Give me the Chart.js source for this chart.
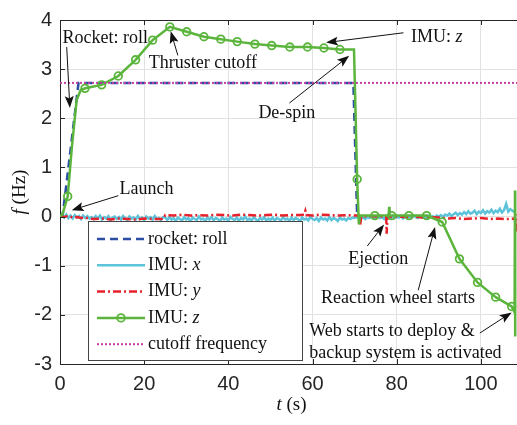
<!DOCTYPE html>
<html><head><meta charset="utf-8">
<script src="https://cdn.jsdelivr.net/npm/chart.js@4.4.0/dist/chart.umd.min.js"></script>
<style>
html,body{margin:0;padding:0;background:#fff;overflow:hidden;}
#wrap{width:517px;height:425px;overflow:hidden;position:relative;background:#fff;}
canvas{display:block;}
</style></head><body>
<div id="wrap"><canvas id="c" width="530" height="425"></canvas></div>
<script>
// ---------- data ----------
const xTicks = [0, 20, 40, 60, 80, 100];
const yTicks = [-3, -2, -1, 0, 1, 2, 3, 4];

// rocket: roll
const rollT = [0, 0.6, 4.4, 69.7, 70.6, 71];
const rollF = [0, 0, 2.72, 2.72, 0, 0];

// cutoff frequency
const cutT = [0, 110];
const cutF = [2.72, 2.72];

// IMU: x  (sampled every 0.5 s from t = 0)
const imuXStep = 0.5;
const imuX = [
  0.00, 0.03, -0.02, 0.04, -0.03, 0.02, -0.04, 0.03, -0.02, 0.01, -0.05, 0.02, -0.03, 0.01, -0.04,
  -0.01, -0.05, 0.01, -0.04, 0.02, -0.06, -0.01, -0.04, 0.01, -0.07, -0.02, 0.00, -0.05, -0.01, -0.06,
  0.01, -0.03, -0.07, 0.00, -0.04, -0.02, -0.06, 0.01, -0.05, -0.02, -0.08, 0.00, -0.04, -0.01, -0.06,
  0.01, -0.05, -0.03, -0.07, -0.01,
  -0.02, -0.07, -0.01, -0.06, -0.03, -0.09, -0.02, -0.05, -0.08, -0.01, -0.06, -0.03, -0.10, -0.02, -0.05,
  -0.07, 0.00, -0.06, -0.04, -0.09, -0.02, -0.06, -0.01, -0.08, -0.03, -0.05, -0.10, -0.02, -0.06, -0.04,
  -0.08, -0.01, -0.05, -0.07, -0.02, -0.09, -0.03, -0.06, 0.00, -0.07, -0.04, -0.08, -0.02, -0.05, -0.10,
  -0.03, -0.06, -0.01, -0.08, -0.04, -0.07, -0.02, -0.09, -0.03, -0.05, -0.08, -0.01, -0.06, -0.04, -0.09,
  -0.02, -0.07, -0.03, -0.05, -0.10, -0.02, -0.06, -0.04, -0.08, 0.00, -0.05, -0.07, -0.03, -0.09, -0.02,
  -0.06, -0.04, -0.08, -0.01, -0.07, -0.03, -0.05, -0.09, -0.02, -0.06, -0.04, -0.08, -0.03, -0.05, -0.02,
  -0.03, -0.01, -0.04, 0.00, -0.02, -0.05, -0.01, -0.03, 0.01, -0.04, -0.02, 0.00, -0.03, -0.01, -0.05,
  0.00, -0.02, -0.04, 0.01, -0.03, -0.01, -0.02, 0.01, -0.04, 0.00, -0.02, -0.01, -0.03, 0.02, -0.01,
  -0.03, 0.01, -0.02, 0.00, -0.03, 0.02, -0.01, 0.01, -0.02, 0.02,
  0.00, 0.03, -0.01, 0.04, 0.02, 0.06, 0.01, 0.05, 0.08, 0.03, 0.07, 0.04, 0.09, 0.05, 0.11,
  0.06, 0.08, 0.12, 0.05, 0.10, 0.07, 0.13, 0.06, 0.11, 0.08, 0.14, 0.07, 0.12, 0.09, 0.16,
  0.08, 0.13, 0.26, 0.10, 0.15, 0.12, 0.09
];

// IMU: y
const imuYT = [0, 1, 2, 3, 4, 5, 6, 7, 8, 10, 12, 14, 16, 18, 20, 22, 24, 24.6, 25,
  27, 29, 31, 33, 35, 37, 39, 41, 43, 45, 47, 49, 51, 53, 55, 57, 58, 58.3, 58.6,
  60, 62, 64, 66, 68, 70, 71.0, 71.3, 71.6, 74, 76, 77.5, 77.6, 77.8,
  80, 82, 84, 86, 88, 90, 92, 94, 96, 98, 100, 102, 104, 106, 108.1, 108.3, 108.5];
const imuYF = [0.01, -0.01, 0.02, -0.02, -0.01, -0.03, -0.02, -0.04, -0.05,
  -0.04, -0.06, -0.04, -0.05, -0.06, -0.04, -0.05, -0.05, -0.04, 0.03,
  0.02, 0.04, 0.02, 0.03, 0.02, 0.04, 0.03, 0.02, 0.04, 0.03, 0.02, 0.03, 0.04, 0.02, 0.03, 0.03,
  0.04, 0.12, 0.03,
  0.02, 0.04, 0.03, 0.02, 0.03, 0.02, 0.02, -0.18, 0.0, 0.01, 0.0, 0.0, -0.35, 0.0,
  0.0, -0.01, 0.0, -0.02, -0.01, -0.02, -0.04, -0.03, -0.05, -0.04, -0.03, -0.05, -0.04, -0.05,
  -0.04, -0.3, 0.05];

// IMU: z
const imuZT = [0, 0.6, 1.83, 2.8, 3.95, 4.9, 5.94, 9.9, 13.85, 17.96, 22.0, 26.1, 30.1, 34.2, 38.2,
  42.1, 46.3, 50.3, 54.6, 58.8, 62.7, 66.5, 69.85, 70.6, 71.0, 71.3, 74.8, 78.1, 78.2, 78.3, 78.8,
  82.9, 87.1, 90.8, 94.9, 99.2, 103.5, 107.3, 108.0, 108.1, 108.15];
const imuZF = [0, 0.05, 0.41, 1.39, 2.37, 2.57, 2.61, 2.68, 2.86, 3.19, 3.59, 3.86, 3.76, 3.66, 3.61,
  3.56, 3.51, 3.48, 3.45, 3.45, 3.43, 3.40, 3.40, 0.76, -0.16, 0.02, 0.02, 0.02, 0.2, 0.02, 0.02,
  0.02, 0.02, -0.11, -0.86, -1.34, -1.64, -1.83, -1.95, 0.53, -2.44];
// times at which the IMU: z curve carries a circle marker
const imuZMarkT = [1.83, 5.94, 9.9, 13.85, 17.96, 22.0, 26.1, 30.1, 34.2, 38.2, 42.1, 46.3, 50.3,
  54.6, 58.8, 62.7, 66.5, 70.6, 74.8, 78.8, 82.9, 87.1, 90.8, 94.9, 99.2, 103.5, 107.3];

// annotation texts (anchor and arrow given in data units)
const notes = [
  {lines: [[['Rocket: roll', false]]], at: [10.76, 3.62], align: 'center', from: [1.59, 3.45], to: [2.35, 2.21]},
  {lines: [[['Thruster cutoff', false]]], at: [33.95, 3.11], align: 'center', from: [28.0, 3.28], to: [26.3, 3.77]},
  {lines: [[['IMU: ', false], ['z', true]]], at: [89.5, 3.65], align: 'center', from: [81.6, 3.74], to: [63.2, 3.54]},
  {lines: [[['De-spin', false]]], at: [53.9, 2.11], align: 'center', from: [54.5, 2.31], to: [68.7, 3.27]},
  {lines: [[['Launch', false]]], at: [20.55, 0.55], align: 'center', from: [13.85, 0.425], to: [2.78, 0.13]},
  {lines: [[['Ejection', false]]], at: [75.6, -0.87], align: 'center', from: [73.0, -0.60], to: [77.0, -0.16]},
  {lines: [[['Reaction wheel starts', false]]], at: [80.3, -1.66], align: 'center', from: [85.1, -1.5], to: [89.1, -0.21]},
  {lines: [[['Web starts to deploy &', false]], [['backup system is activated', false]]], at: [59.2, -2.34], align: 'left', from: [99.75, -2.37], to: [107.3, -1.95]}
];

// ---------- build datasets ----------
const pts = (T, F) => T.map((t, i) => ({x: t, y: F[i]}));
const imuXPts = imuX.map((v, i) => ({x: i * imuXStep, y: v}));

const COL = {roll: '#2b4ea3', x: '#5cc3da', y: '#e8222b', z: '#5bb53d', cut: '#c43fa5'};
const SERIF = '"Liberation Serif", "Times New Roman", serif';
const SANS = '"Liberation Sans", Arial, sans-serif';
const TXT = '#262626';

const datasets = [
  {label: 'rocket: roll', data: pts(rollT, rollF), borderColor: COL.roll, borderWidth: 2.5, borderDash: [8, 5], pointRadius: 0, order: 5},
  {label: 'IMU: x', data: imuXPts, borderColor: COL.x, borderWidth: 2.5, pointRadius: 0, order: 4},
  {label: 'IMU: y', data: pts(imuYT, imuYF), borderColor: COL.y, borderWidth: 2.5, borderDash: [8, 3, 2, 3], pointRadius: 0, order: 3},
  {label: 'IMU: z', data: pts(imuZT, imuZF), borderColor: COL.z, borderWidth: 2.5,
    pointRadius: c => imuZMarkT.includes(imuZT[c.dataIndex]) ? 3.8 : 0,
    pointBorderWidth: 1.8, pointBorderColor: COL.z, pointBackgroundColor: 'rgba(0,0,0,0)', order: 2},
  {label: 'cutoff frequency', data: pts(cutT, cutF), borderColor: COL.cut, borderWidth: 2, borderDash: [2, 2], pointRadius: 0, order: 1}
];
const legendItalic = {'IMU: x': 'x', 'IMU: y': 'y', 'IMU: z': 'z'};

// ---------- drawing helpers ----------
function richWidth(ctx, segs, size) {
  let w = 0;
  for (const [s, it] of segs) { ctx.font = (it ? 'italic ' : '') + size + 'px ' + SERIF; w += ctx.measureText(s).width; }
  return w;
}
function drawRich(ctx, segs, x, y, size, align) {
  let w = richWidth(ctx, segs, size);
  let cx = align === 'center' ? x - w / 2 : x;
  ctx.textAlign = 'left'; ctx.textBaseline = 'middle'; ctx.fillStyle = '#111';
  for (const [s, it] of segs) {
    ctx.font = (it ? 'italic ' : '') + size + 'px ' + SERIF;
    ctx.fillText(s, cx, y);
    cx += ctx.measureText(s).width;
  }
}
function arrow(ctx, x1, y1, x2, y2) {
  const a = Math.atan2(y2 - y1, x2 - x1), L = 12, W = 4.5;
  const bx = x2 - L * Math.cos(a), by = y2 - L * Math.sin(a);
  ctx.strokeStyle = '#111'; ctx.lineWidth = 1;
  ctx.beginPath(); ctx.moveTo(x1, y1); ctx.lineTo(x2 - 6 * Math.cos(a), y2 - 6 * Math.sin(a)); ctx.stroke();
  const nx = -Math.sin(a), ny = Math.cos(a);
  ctx.fillStyle = '#111';
  ctx.beginPath();
  ctx.moveTo(x2, y2);
  ctx.lineTo(bx + nx * W, by + ny * W);
  ctx.lineTo(x2 - 0.8 * L * Math.cos(a), y2 - 0.8 * L * Math.sin(a));
  ctx.lineTo(bx - nx * W, by - ny * W);
  ctx.closePath(); ctx.fill();
}

const overlay = {
  id: 'overlay',
  afterDraw(chart) {
    const {ctx, chartArea: ca, scales: {x, y}} = chart;
    ctx.save();
    // top frame line
    ctx.strokeStyle = TXT; ctx.lineWidth = 1; ctx.setLineDash([]);
    ctx.beginPath(); ctx.moveTo(ca.left, ca.top + 0.5); ctx.lineTo(ca.right, ca.top + 0.5); ctx.stroke();
    // inner tick marks
    ctx.beginPath();
    for (const v of xTicks) {
      const px = Math.round(x.getPixelForValue(v)) + 0.5;
      ctx.moveTo(px, ca.bottom); ctx.lineTo(px, ca.bottom - 5);
      ctx.moveTo(px, ca.top); ctx.lineTo(px, ca.top + 5);
    }
    for (const v of yTicks) {
      const py = Math.round(y.getPixelForValue(v)) + 0.5;
      ctx.moveTo(ca.left, py); ctx.lineTo(ca.left + 5, py);
    }
    ctx.stroke();

    // legend box
    const lx = ca.left + 28, ly = ca.bottom - 143, lw = 214, lh = 139;
    ctx.fillStyle = '#fff'; ctx.fillRect(lx, ly, lw, lh);
    ctx.strokeStyle = '#444'; ctx.lineWidth = 1;
    ctx.strokeRect(lx + 0.5, ly + 0.5, lw, lh);
    chart.data.datasets.forEach((ds, i) => {
      const yy = ly + 18 + i * 26.3;
      const x0 = lx + 9, x1 = lx + 57;
      ctx.strokeStyle = ds.borderColor; ctx.lineWidth = ds.borderWidth;
      ctx.setLineDash(ds.borderDash || []);
      ctx.beginPath(); ctx.moveTo(x0, yy); ctx.lineTo(x1, yy); ctx.stroke();
      ctx.setLineDash([]);
      if (typeof ds.pointRadius === 'function') {
        ctx.lineWidth = ds.pointBorderWidth;
        ctx.beginPath(); ctx.arc((x0 + x1) / 2, yy, 3.8, 0, Math.PI * 2); ctx.stroke();
      }
      const it = legendItalic[ds.label];
      const segs = it ? [[ds.label.slice(0, -1), false], [it, true]] : [[ds.label, false]];
      drawRich(ctx, segs, x1 + 3, yy, 18, 'left');
    });

    // annotations
    for (const n of notes) {
      arrow(ctx, x.getPixelForValue(n.from[0]), y.getPixelForValue(n.from[1]),
                 x.getPixelForValue(n.to[0]), y.getPixelForValue(n.to[1]));
      const tx = x.getPixelForValue(n.at[0]);
      let ty = y.getPixelForValue(n.at[1]);
      for (const line of n.lines) { drawRich(ctx, line, tx, ty, 18, n.align); ty += 21.5; }
    }

    // axis titles
    drawRich(ctx, [['t', true], [' (s)', false]], (ca.left + ca.right) / 2, 405, 19, 'center');
    ctx.save();
    ctx.translate(20, (ca.top + ca.bottom) / 2);
    ctx.rotate(-Math.PI / 2);
    drawRich(ctx, [['f', true], [' (Hz)', false]], 0, 0, 19, 'center');
    ctx.restore();
    ctx.restore();
  }
};

const tickFont = {family: SANS, size: 20};
new Chart(document.getElementById('c'), {
  type: 'line',
  data: {datasets},
  options: {
    responsive: false, animation: false, devicePixelRatio: 1,
    layout: {padding: {top: 5, right: 7, left: 0, bottom: 0}},
    plugins: {legend: {display: false}, tooltip: {enabled: false}},
    elements: {line: {tension: 0}},
    scales: {
      x: {
        type: 'linear', min: 0, max: 110,
        afterBuildTicks: s => { s.ticks = xTicks.map(v => ({value: v})); },
        afterFit: s => { s.height = 61; },
        ticks: {font: tickFont, color: TXT, padding: 8, maxRotation: 0, callback: v => String(v)},
        grid: {color: '#e2e2e2', drawTicks: false, tickLength: 0},
        border: {color: TXT, width: 1}
      },
      y: {
        type: 'linear', min: -3, max: 4,
        afterBuildTicks: s => { s.ticks = yTicks.map(v => ({value: v})); },
        afterFit: s => { s.width = 60; },
        ticks: {font: tickFont, color: TXT, padding: 8, callback: v => String(v)},
        grid: {color: '#e2e2e2', drawTicks: false, tickLength: 0},
        border: {color: TXT, width: 1}
      }
    }
  },
  plugins: [overlay]
});
</script>
</body></html>
